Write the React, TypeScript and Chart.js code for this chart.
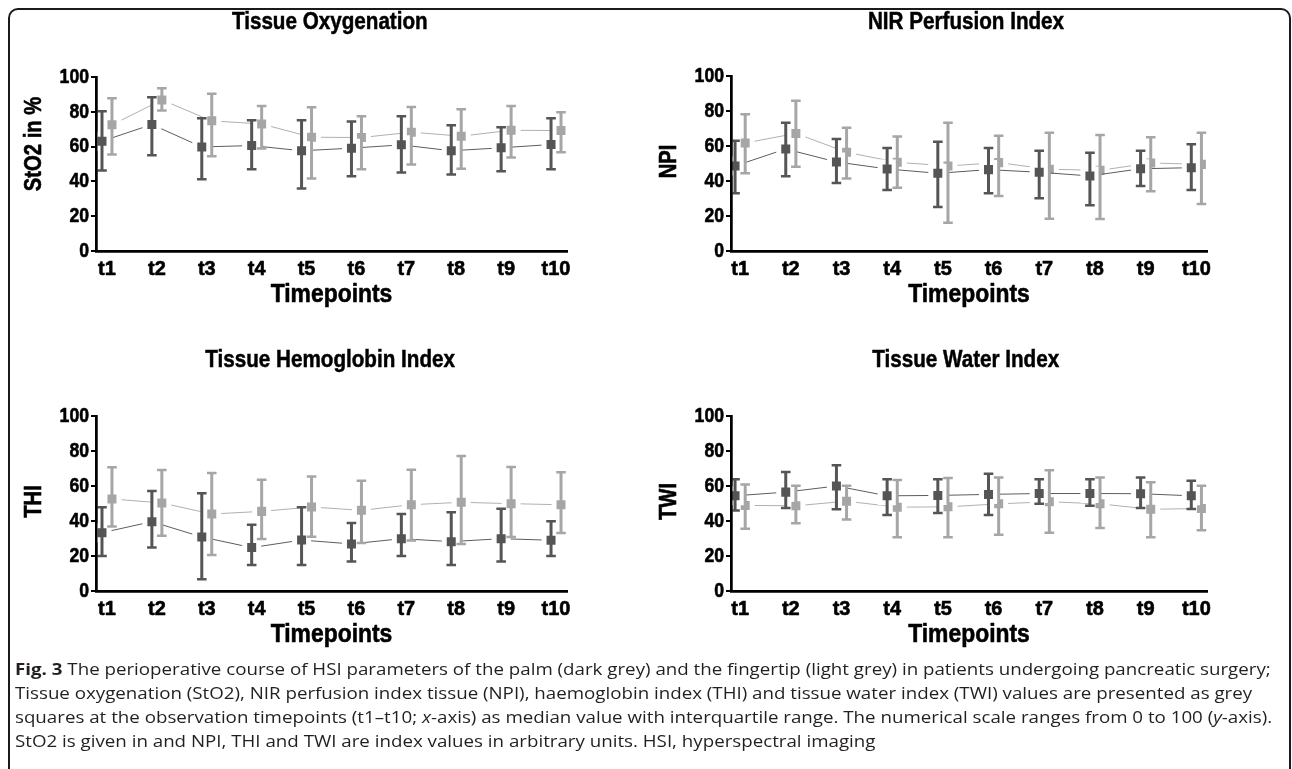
import React, { useEffect, useRef } from "react";
import { Chart, registerables } from "chart.js";

Chart.register(...registerables);

// ---------- data ----------
const timepoints = ["t1", "t2", "t3", "t4", "t5", "t6", "t7", "t8", "t9", "t10"];
const yTickValues = [0, 20, 40, 60, 80, 100];

// Tissue Oxygenation (StO2)
const sto2PalmMedian = [63.1, 72.7, 59.8, 60.6, 57.6, 59.1, 61.0, 57.6, 59.3, 61.2];
const sto2PalmQ1 = [46.3, 55.1, 41.3, 47.0, 35.9, 43.0, 45.1, 44.0, 45.9, 47.0];
const sto2PalmQ3 = [80.3, 88.3, 76.3, 75.1, 75.1, 74.4, 77.4, 72.3, 71.1, 76.3];
const sto2TipMedian = [72.5, 86.8, 74.8, 73.0, 65.4, 65.2, 68.3, 66.0, 69.4, 69.2];
const sto2TipQ1 = [55.4, 80.7, 54.5, 58.9, 41.7, 47.0, 49.7, 47.2, 53.7, 56.8];
const sto2TipQ3 = [87.8, 93.5, 90.4, 83.4, 82.6, 77.4, 82.8, 81.5, 83.4, 79.7];

// NIR Perfusion Index (NPI)
const npiPalmMedian = [48.6, 58.3, 50.9, 46.9, 44.4, 46.5, 45.0, 42.9, 47.0, 47.6];
const npiPalmQ1 = [33.0, 42.7, 38.9, 34.9, 25.1, 33.0, 30.1, 26.1, 37.1, 34.9];
const npiPalmQ3 = [63.0, 73.3, 64.0, 58.9, 62.5, 58.9, 57.3, 56.2, 57.3, 61.0];
const npiTipMedian = [61.7, 67.2, 56.4, 50.7, 48.6, 50.5, 46.7, 46.1, 50.3, 49.5];
const npiTipQ1 = [44.4, 48.2, 41.5, 36.2, 16.2, 31.4, 18.5, 18.3, 34.1, 26.9];
const npiTipQ3 = [78.1, 85.9, 70.5, 65.5, 73.3, 65.9, 67.6, 66.3, 65.0, 67.6];

// Tissue Hemoglobin Index (THI)
const thiPalmMedian = [33.3, 39.6, 30.9, 24.8, 29.1, 26.9, 29.9, 28.2, 29.9, 29.0];
const thiPalmQ1 = [20.0, 24.8, 6.7, 14.9, 14.9, 16.8, 20.0, 14.9, 16.8, 20.0];
const thiPalmQ3 = [47.8, 57.1, 55.8, 37.9, 47.8, 38.9, 44.0, 45.0, 47.0, 39.8];
const thiTipMedian = [52.6, 50.3, 44.0, 45.5, 48.0, 46.1, 49.3, 50.7, 49.9, 49.3];
const thiTipQ1 = [36.8, 31.6, 20.6, 29.7, 31.0, 27.4, 28.8, 26.9, 30.9, 33.1];
const thiTipQ3 = [70.7, 69.1, 67.4, 63.6, 65.5, 63.0, 69.3, 77.1, 70.9, 67.8];

// Tissue Water Index (TWI)
const twiPalmMedian = [54.4, 56.5, 60.0, 54.4, 54.6, 55.2, 55.7, 55.7, 55.6, 54.4];
const twiPalmQ1 = [46.0, 47.5, 46.7, 43.5, 44.6, 43.5, 49.8, 48.7, 47.5, 46.9];
const twiPalmQ3 = [63.8, 68.0, 71.8, 63.8, 63.8, 67.0, 63.8, 63.8, 64.9, 63.0];
const twiTipMedian = [48.9, 48.7, 51.3, 47.9, 48.1, 49.8, 51.0, 49.8, 46.7, 47.1];
const twiTipQ1 = [35.6, 38.7, 40.8, 30.7, 30.7, 32.2, 33.3, 36.0, 30.7, 34.7];
const twiTipQ3 = [60.9, 60.2, 60.2, 63.4, 64.6, 64.9, 69.0, 64.8, 62.1, 60.2];

// ---------- styles ----------
const ARIAL = "'Liberation Sans', Arial, Helvetica, sans-serif";
const CAPTION_FONT = "'Open Sans', 'Noto Sans', sans-serif";
const DARK = "#555555";
const DARK_LINE = "#5c5c5c";
const LIGHT = "#a6a6a6";
const LIGHT_LINE = "#b0b0b0";

type PanelDef = {
  title: string;
  yTitle: string;
  palm: [number[], number[], number[]];
  tip: [number[], number[], number[]];
  left: number;
  top: number;
  width: number;
  height: number;
  padRight: number;
  padTop: number;
  xMin: number;
  xMax: number;
  titleX: number;
  titleY: number;
  yTitleShift: number;
};

const panels: PanelDef[] = [
  {
    title: "Tissue Oxygenation", yTitle: "StO2 in %",
    palm: [sto2PalmMedian, sto2PalmQ1, sto2PalmQ3], tip: [sto2TipMedian, sto2TipQ1, sto2TipQ3],
    left: 0, top: 0, width: 640, height: 330, padRight: 73, padTop: 77,
    xMin: 0.78, xMax: 10.22, titleX: 330, titleY: 21, yTitleShift: -20,
  },
  {
    title: "NIR Perfusion Index", yTitle: "NPI",
    palm: [npiPalmMedian, npiPalmQ1, npiPalmQ3], tip: [npiTipMedian, npiTipQ1, npiTipQ3],
    left: 635, top: 0, width: 657, height: 330, padRight: 85, padTop: 76,
    xMin: 0.82, xMax: 10.21, titleX: 966, titleY: 21, yTitleShift: -2,
  },
  {
    title: "Tissue Hemoglobin Index", yTitle: "THI",
    palm: [thiPalmMedian, thiPalmQ1, thiPalmQ3], tip: [thiTipMedian, thiTipQ1, thiTipQ3],
    left: 0, top: 340, width: 640, height: 330, padRight: 73, padTop: 76,
    xMin: 0.78, xMax: 10.22, titleX: 330, titleY: 359, yTitleShift: -2,
  },
  {
    title: "Tissue Water Index", yTitle: "TWI",
    palm: [twiPalmMedian, twiPalmQ1, twiPalmQ3], tip: [twiTipMedian, twiTipQ1, twiTipQ3],
    left: 635, top: 340, width: 657, height: 330, padRight: 85, padTop: 76,
    xMin: 0.82, xMax: 10.21, titleX: 966, titleY: 359, yTitleShift: -2,
  },
];

const Y_AXIS_W = 96;
const X_AXIS_H = 79;

function drawSqueezed(
  ctx: CanvasRenderingContext2D,
  text: string,
  x: number,
  y: number,
  size: number,
  squeeze: number,
  align: CanvasTextAlign,
  rotate = false
) {
  ctx.save();
  ctx.translate(x, y);
  if (rotate) ctx.rotate(-Math.PI / 2);
  ctx.scale(squeeze, 1);
  ctx.font = `bold ${size}px ${ARIAL}`;
  ctx.textAlign = align;
  ctx.textBaseline = "middle";
  ctx.fillStyle = "#000";
  ctx.strokeStyle = "#000";
  ctx.lineWidth = 0.6;
  ctx.lineJoin = "round";
  ctx.fillText(text, 0, 0);
  ctx.strokeText(text, 0, 0);
  ctx.restore();
}

const errorBarsPlugin = {
  id: "errorBars",
  afterDatasetsDraw(chart: any) {
    const ctx = chart.ctx;
    const xs = chart.scales.x;
    const ys = chart.scales.y;
    chart.data.datasets.forEach((ds: any) => {
      ctx.save();
      ctx.strokeStyle = ds.whiskerColor;
      ctx.lineCap = "butt";
      ds.data.forEach((p: any, i: number) => {
        const x = xs.getPixelForValue(p.x);
        const yl = ys.getPixelForValue(ds.lo[i]);
        const yh = ys.getPixelForValue(ds.hi[i]);
        ctx.lineWidth = 3;
        ctx.beginPath();
        ctx.moveTo(x, yl);
        ctx.lineTo(x, yh);
        ctx.stroke();
        ctx.lineWidth = 2.5;
        ctx.beginPath();
        ctx.moveTo(x - 4.8, yl);
        ctx.lineTo(x + 4.8, yl);
        ctx.moveTo(x - 4.8, yh);
        ctx.lineTo(x + 4.8, yh);
        ctx.stroke();
      });
      ctx.restore();
    });
    if (chart.scales.y.drawBorder) chart.scales.y.drawBorder();
    if (chart.scales.x.drawBorder) chart.scales.x.drawBorder();
  },
};

const axisTextPlugin = {
  id: "axisText",
  afterDraw(chart: any, _args: any, opts: any) {
    const ctx = chart.ctx as CanvasRenderingContext2D;
    const xs = chart.scales.x;
    const ys = chart.scales.y;
    const area = chart.chartArea;
    yTickValues.forEach((v) => {
      drawSqueezed(ctx, String(v), area.left - 7, ys.getPixelForValue(v), 21, 0.84, "right");
    });
    timepoints.forEach((t, i) => {
      drawSqueezed(ctx, t, xs.getPixelForValue(i + 1), area.bottom + 18, 21, 0.95, "center");
    });
    drawSqueezed(ctx, "Timepoints", (area.left + area.right) / 2, area.bottom + 44, 26, 0.88, "center");
    drawSqueezed(ctx, opts.yTitle, 35, (area.top + area.bottom) / 2 + (opts.shift || 0), 23, 0.88, "center", true);
  },
};

function Panel({ def }: { def: PanelDef }) {
  const ref = useRef<HTMLCanvasElement | null>(null);
  useEffect(() => {
    if (!ref.current) return;
    const mk = (arr: number[], off: number) => arr.map((v, i) => ({ x: i + 1 + off, y: v }));
    const common = {
      borderWidth: 1,
      pointStyle: "rect",
      pointRadius: 9.9,
      pointBorderWidth: 5,
      pointBorderColor: "#ffffff",
      clip: 0,
    };
    const chart = new Chart(ref.current, {
      type: "line",
      data: {
        datasets: [
          {
            ...common,
            label: "palm",
            data: mk(def.palm[0], -0.1),
            lo: def.palm[1],
            hi: def.palm[2],
            whiskerColor: DARK,
            borderColor: DARK_LINE,
            backgroundColor: DARK,
            pointBackgroundColor: DARK,
          } as any,
          {
            ...common,
            label: "fingertip",
            data: mk(def.tip[0], 0.1),
            lo: def.tip[1],
            hi: def.tip[2],
            whiskerColor: LIGHT,
            borderColor: LIGHT_LINE,
            backgroundColor: LIGHT,
            pointBackgroundColor: LIGHT,
          } as any,
        ],
      },
      options: {
        animation: false,
        responsive: false,
        maintainAspectRatio: false,
        layout: { padding: { left: 0, right: def.padRight, top: def.padTop, bottom: 0 } },
        plugins: {
          legend: { display: false },
          tooltip: { enabled: false },
          title: { display: false },
          axisText: { yTitle: def.yTitle, shift: def.yTitleShift },
        },
        scales: {
          x: {
            type: "linear",
            min: def.xMin,
            max: def.xMax,
            afterBuildTicks: (s: any) => {
              s.ticks = timepoints.map((_, i) => ({ value: i + 1 }));
            },
            afterFit: (s: any) => {
              s.height = X_AXIS_H;
            },
            ticks: { display: false },
            grid: { display: false },
            border: { display: true, color: "#000", width: 2.5 },
            title: { display: false },
          },
          y: {
            min: 0,
            max: 100,
            afterBuildTicks: (s: any) => {
              s.ticks = yTickValues.map((v) => ({ value: v }));
            },
            afterFit: (s: any) => {
              s.width = Y_AXIS_W;
            },
            ticks: { display: false },
            grid: { drawOnChartArea: false, drawTicks: true, tickLength: 5, color: "#000", lineWidth: 2 },
            border: { display: true, color: "#000", width: 2.5 },
            title: { display: false },
          },
        },
      } as any,
      plugins: [errorBarsPlugin, axisTextPlugin],
    });
    return () => chart.destroy();
  }, [def]);

  return (
    <>
      <canvas
        ref={ref}
        width={def.width}
        height={def.height}
        style={{ position: "absolute", left: def.left, top: def.top, width: def.width, height: def.height }}
      />
      <div
        style={{
          position: "absolute",
          left: def.titleX - 300,
          top: def.titleY - 15,
          width: 600,
          height: 30,
          lineHeight: "30px",
          textAlign: "center",
          whiteSpace: "nowrap",
        }}
      >
        <span
          style={{
            display: "inline-block",
            transform: "scaleX(0.86)",
            transformOrigin: "center",
            fontFamily: ARIAL,
            fontWeight: "bold",
            fontSize: 24,
            color: "#000",
            WebkitTextStroke: "0.5px #000",
          }}
        >
          {def.title}
        </span>
      </div>
    </>
  );
}

const captionLines = [
  "The perioperative course of HSI parameters of the palm (dark grey) and the fingertip (light grey) in patients undergoing pancreatic surgery;",
  "Tissue oxygenation (StO2), NIR perfusion index tissue (NPI), haemoglobin index (THI) and tissue water index (TWI) values are presented as grey",
  "squares at the observation timepoints (t1–t10; x-axis) as median value with interquartile range. The numerical scale ranges from 0 to 100 (y-axis).",
  "StO2 is given in and NPI, THI and TWI are index values in arbitrary units. HSI, hyperspectral imaging",
];

function Caption() {
  const renderLine = (line: string) => {
    const parts = line.split(/(x-axis|y-axis)/);
    return parts.map((p, k) => {
      if (p === "x-axis" || p === "y-axis") {
        return (
          <span key={k}>
            <i>{p[0]}</i>
            {p.slice(1)}
          </span>
        );
      }
      return <span key={k}>{p}</span>;
    });
  };
  return (
    <div
      style={{
        position: "absolute",
        left: 15,
        top: 657,
        fontFamily: CAPTION_FONT,
        fontSize: 16,
        lineHeight: "24px",
        color: "#231f20",
        whiteSpace: "nowrap",
        transform: "scaleX(1.17)",
        transformOrigin: "left top",
      }}
    >
      {captionLines.map((line, i) => (
        <div key={i}>
          {i === 0 && <b>Fig. 3 </b>}
          {renderLine(line)}
        </div>
      ))}
    </div>
  );
}

export default function App() {
  return (
    <div
      style={{
        position: "fixed",
        left: 0,
        top: 0,
        width: 1292,
        height: 769,
        background: "#fff",
        overflow: "hidden",
      }}
    >
      <div
        style={{
          position: "absolute",
          left: 8,
          top: 8,
          width: 1283,
          height: 780,
          border: "2px solid #1a1a1a",
          borderRadius: 10,
          boxSizing: "border-box",
        }}
      />
      {panels.map((p, i) => (
        <Panel key={i} def={p} />
      ))}
      <Caption />
    </div>
  );
}
